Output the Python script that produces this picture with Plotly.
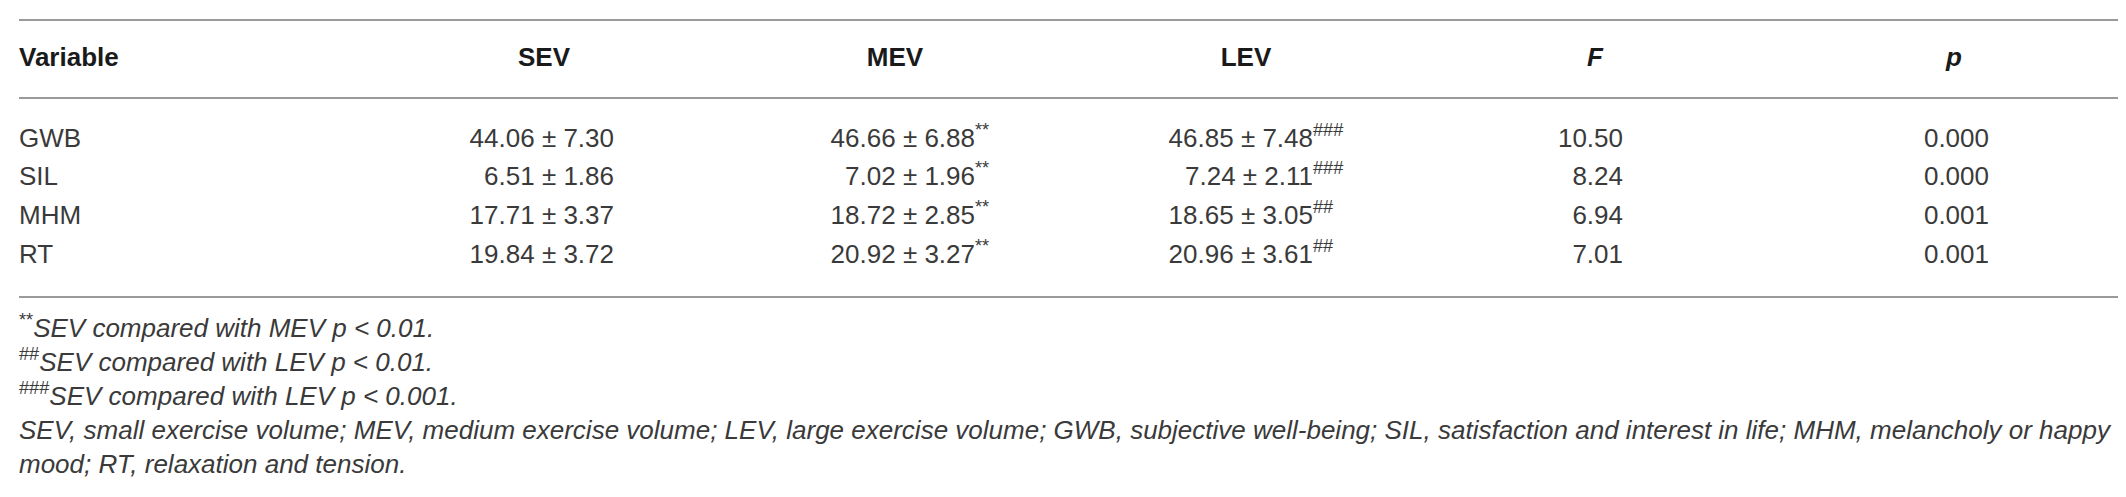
import plotly.graph_objects as go

# ---------------- data ----------------
headers = ["Variable", "SEV", "MEV", "LEV", "<i>F</i>", "<i>p</i>"]
variables = ["GWB", "SIL", "MHM", "RT"]
sev = ["44.06 ± 7.30", "6.51 ± 1.86", "17.71 ± 3.37", "19.84 ± 3.72"]
mev = ["46.66 ± 6.88", "7.02 ± 1.96", "18.72 ± 2.85", "20.92 ± 3.27"]
mev_sig = ["**", "**", "**", "**"]
lev = ["46.85 ± 7.48", "7.24 ± 2.11", "18.65 ± 3.05", "20.96 ± 3.61"]
lev_sig = ["###", "###", "##", "##"]
f_vals = ["10.50", "8.24", "6.94", "7.01"]
p_vals = ["0.000", "0.000", "0.001", "0.001"]
footnote_marks = ["**", "##", "###", "", ""]
footnotes = [
    "SEV compared with MEV p &lt; 0.01.",
    "SEV compared with LEV p &lt; 0.01.",
    "SEV compared with LEV p &lt; 0.001.",
    "SEV, small exercise volume; MEV, medium exercise volume; LEV, large exercise volume; "
    "GWB, subjective well-being; SIL, satisfaction and interest in life; MHM, melancholy or happy",
    "mood; RT, relaxation and tension.",
]

# ---------------- layout constants ----------------
W, H = 2126, 497
LEFT, RIGHT = 11, 2114
HEADER_Y = 51
ROW0, ROW_H = 132, 38.7
FOOT0, FOOT_H = 322, 34
LINES_Y = [12, 90, 289]
COL_RIGHT = {"SEV": 606, "MEV": 967, "LEV": 1305, "F": 1615, "p": 1981}
HEAD_X = [LEFT, 536, 887, 1238, 1587, 1946]

BODY_FONT = dict(family="Liberation Sans", size=26, color="#3a3a3a")
HEAD_FONT = dict(family="Liberation Sans", size=26, color="#1a1a1a")
FOOT_FONT = dict(family="Liberation Sans", size=26, color="#3a3a3a")

row_y = [ROW0 + i * ROW_H for i in range(len(variables))]
foot_y = [FOOT0 + i * FOOT_H for i in range(len(footnotes))]

fig = go.Figure()

def text_trace(xs, ys, texts, pos, font):
    fig.add_trace(go.Scatter(x=xs, y=ys, text=texts, mode="text",
                             textposition=pos, textfont=font,
                             hoverinfo="skip", showlegend=False, cliponaxis=False))

# header
text_trace([HEAD_X[0]], [HEADER_Y], ["<b>" + headers[0] + "</b>"], "middle right", HEAD_FONT)
text_trace(HEAD_X[1:], [HEADER_Y] * 5, ["<b>" + h + "</b>" for h in headers[1:]],
           "middle center", HEAD_FONT)

# body
text_trace([LEFT] * len(variables), row_y, variables, "middle right", BODY_FONT)
text_trace([COL_RIGHT["SEV"]] * 4, row_y, sev, "middle left", BODY_FONT)
text_trace([COL_RIGHT["MEV"]] * 4, row_y, mev, "middle left", BODY_FONT)
text_trace([COL_RIGHT["MEV"]] * 4, row_y, ["<sup>" + s + "</sup>" for s in mev_sig],
           "middle right", BODY_FONT)
text_trace([COL_RIGHT["LEV"]] * 4, row_y, lev, "middle left", BODY_FONT)
text_trace([COL_RIGHT["LEV"]] * 4, row_y, ["<sup>" + s + "</sup>" for s in lev_sig],
           "middle right", BODY_FONT)
text_trace([COL_RIGHT["F"]] * 4, row_y, f_vals, "middle left", BODY_FONT)
text_trace([COL_RIGHT["p"]] * 4, row_y, p_vals, "middle left", BODY_FONT)

# footnotes
foot_texts = [("<sup>" + m + "</sup>" if m else "") + "<i>" + t + "</i>"
              for m, t in zip(footnote_marks, footnotes)]
text_trace([LEFT] * len(footnotes), foot_y, foot_texts, "middle right", FOOT_FONT)

for y in LINES_Y:
    fig.add_shape(type="line", x0=LEFT, x1=RIGHT, y0=y, y1=y, xref="x", yref="y",
                  line=dict(color="#9a9a9a", width=2))

fig.update_layout(
    width=W, height=H, margin=dict(l=0, r=0, t=0, b=0),
    paper_bgcolor="white", plot_bgcolor="white",
    xaxis=dict(range=[0, W], visible=False, fixedrange=True),
    yaxis=dict(range=[H, 0], visible=False, fixedrange=True),
)

fig.write_html("out.html")
